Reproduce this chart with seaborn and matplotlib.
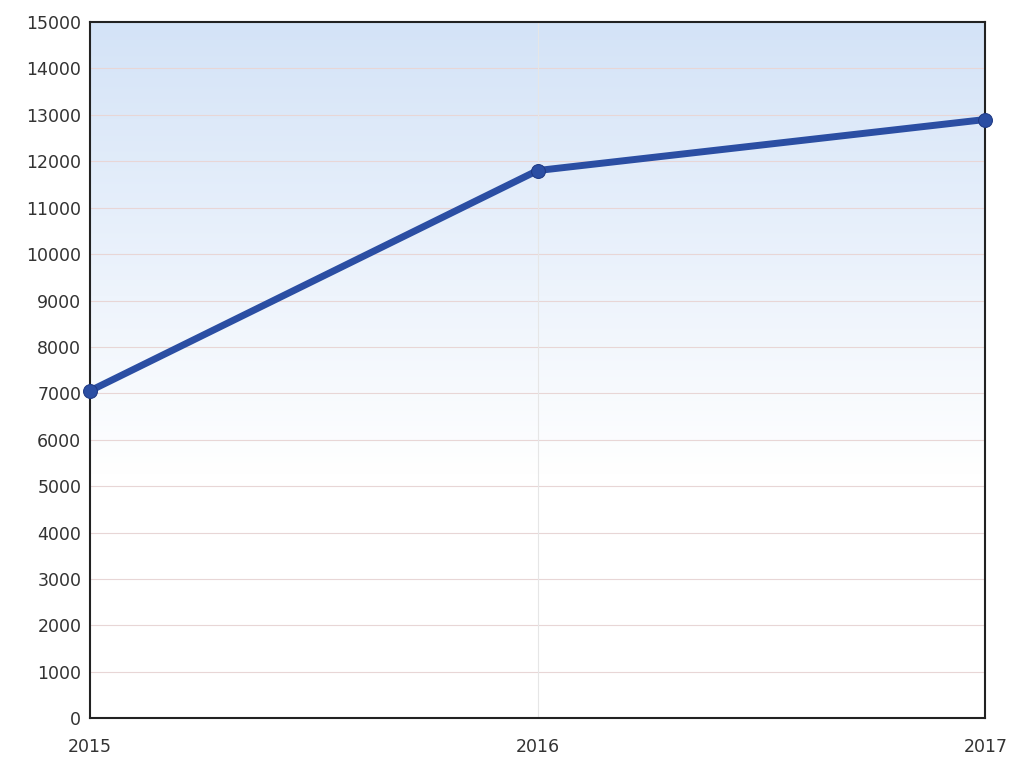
import matplotlib
matplotlib.use("Agg")
import matplotlib.pyplot as plt
import seaborn as sns
import numpy as np
import pandas as pd

years = [2015, 2016, 2017]
values = [7050, 11800, 12900]
y_ticks = list(range(0, 15001, 1000))

sns.set_style("white")
plt.rcParams['font.family'] = ['DejaVu Sans']

fig = plt.figure(figsize=(10.19, 7.6), dpi=100)
ax = fig.add_axes([0.088, 0.055, 0.879, 0.916])

# gradient background: light blue top -> white bottom
top = np.array([0.83, 0.89, 0.97])
bot = np.array([1.0, 1.0, 1.0])
t = np.linspace(0, 1, 256)
w = np.clip((t - 0.35) / 0.65, 0, 1)[:, None]
grad = bot + (top - bot) * w
img = grad[:, None, :].repeat(2, axis=1)
ax.imshow(img, extent=[0, 1, 0, 1], transform=ax.transAxes, origin='lower',
          aspect='auto', zorder=0)

df = pd.DataFrame({"year": years, "value": values})
sns.lineplot(data=df, x="year", y="value", ax=ax, color="#2b4ea3", linewidth=5,
             marker="o", markersize=10, markeredgecolor="#1f3a85", zorder=3,
             clip_on=False)

ax.set_xlim(2015, 2017)
ax.set_ylim(0, 15000)
ax.set_yticks(y_ticks)
ax.set_yticklabels([str(v) for v in y_ticks], fontsize=12.5, color="#333333")
ax.set_xticks(years)
ax.set_xticklabels([str(y) for y in years], fontsize=12.5, color="#333333")
ax.tick_params(axis='y', length=0, pad=6)
ax.tick_params(axis='x', length=0, pad=14)
for v in y_ticks[1:-1]:
    ax.axhline(v, color="#e8d6d6", linewidth=0.8, zorder=1)
ax.axvline(2016, color="#e6e6e6", linewidth=0.8, zorder=1)
ax.set_xlabel("")
ax.set_ylabel("")
for s in ax.spines.values():
    s.set_color("#222222")
    s.set_linewidth(1.5)
    s.set_visible(True)

fig.savefig("out.png", dpi=100)
